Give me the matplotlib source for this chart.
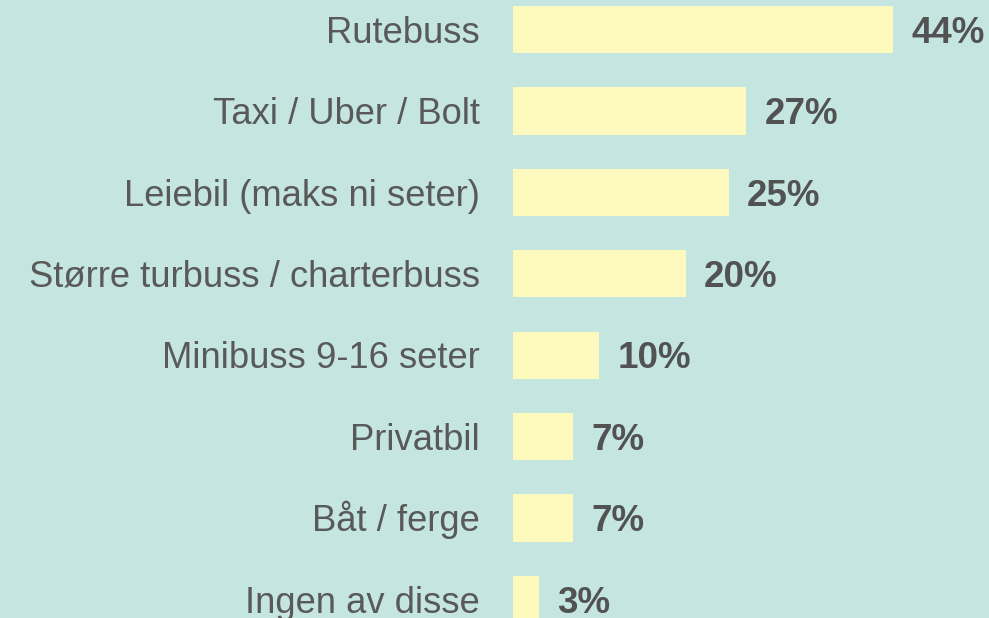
import matplotlib.pyplot as plt
import numpy as np

categories = [
    "Rutebuss",
    "Taxi / Uber / Bolt",
    "Leiebil (maks ni seter)",
    "Større turbuss / charterbuss",
    "Minibuss 9-16 seter",
    "Privatbil",
    "Båt / ferge",
    "Ingen av disse",
]
shares = [44, 27, 25, 20, 10, 7, 7, 3]

bg = "#C5E6E0"
bar_col = "#FDF8BC"
txt_col = "#595959"

W, H, dpi = 989, 618, 100
fig = plt.figure(figsize=(W / dpi, H / dpi), dpi=dpi, facecolor=bg)

x0 = 513
ax = fig.add_axes([x0 / W, 0, (W - x0) / W, 1])
ax.set_facecolor(bg)

px_per_pct = 8.64
step = 81.43
first = 29.5
ax.set_xlim(0, (W - x0) / px_per_pct)
ax.set_ylim((H - first) / step, -first / step)

pos = np.arange(len(categories))
ax.barh(pos, shares, height=0.58, color=bar_col, edgecolor="none")

# baseline sits half a cap height below the bar centre
drop = -9.5
for p, v, lab in zip(pos, shares, categories):
    ax.annotate(lab, (0, p), xytext=(-24, drop), textcoords="offset points",
                va="baseline", ha="right", fontsize=26.2, color=txt_col,
                family="Liberation Sans", annotation_clip=False)
    ax.annotate(f"{v}%", (v, p), xytext=(13, drop), textcoords="offset points",
                va="baseline", ha="left", fontsize=26.5, fontweight="bold",
                color="#525252", family="Liberation Sans")

ax.set_xticks([])
ax.set_yticks([])
for s in ax.spines.values():
    s.set_visible(False)

plt.savefig("out.png", dpi=dpi, facecolor=bg)
